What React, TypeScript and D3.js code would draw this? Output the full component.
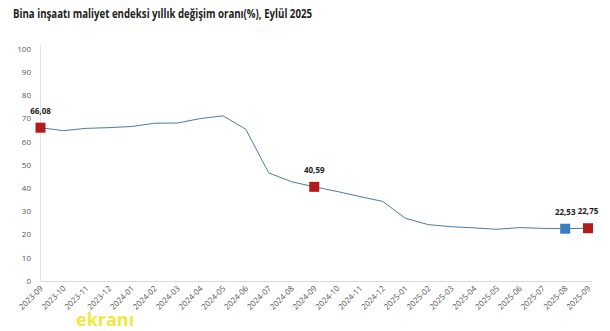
import React from "react";
import * as d3 from "d3";

const months = [
  "2023-09","2023-10","2023-11","2023-12","2024-01","2024-02","2024-03","2024-04","2024-05",
  "2024-06","2024-07","2024-08","2024-09","2024-10","2024-11","2024-12","2025-01","2025-02",
  "2025-03","2025-04","2025-05","2025-06","2025-07","2025-08","2025-09",
];
const values = [
  66.08, 64.8, 65.8, 66.1, 66.6, 68.0, 68.1, 70.0, 71.2,
  65.4, 46.6, 42.8, 40.59, 38.6, 36.4, 34.3, 27.0, 24.3,
  23.4, 22.9, 22.3, 23.0, 22.7, 22.53, 22.75,
];
const yTicks = [0, 10, 20, 30, 40, 50, 60, 70, 80, 90, 100];
const highlights = [
  { i: 0, label: "66,08", color: "#b31b1b" },
  { i: 12, label: "40,59", color: "#b31b1b" },
  { i: 23, label: "22,53", color: "#3a7fc1" },
  { i: 24, label: "22,75", color: "#b31b1b" },
];
const title = "Bina inşaatı maliyet endeksi yıllık değişim oranı(%), Eylül 2025";

export default function App() {
  const W = 610, H = 331;
  const x = d3.scalePoint<string>().domain(months).range([40.5, 588]);
  const y = d3.scaleLinear().domain([0, 100]).range([281, 49]);
  const line = d3.line<number>().x((_, i) => x(months[i])!).y((d) => y(d));
  const font = "'Open Sans', 'Liberation Sans', sans-serif";
  return (
    <svg width={W} height={H} style={{ position: "absolute", left: 0, top: 0, fontFamily: font }}>
      <rect width={W} height={H} fill="#fff" />
      <text x={13} y={18} fontSize={12} fontWeight="bold" fill="#222" textLength={299} lengthAdjust="spacingAndGlyphs">{title}</text>
      <line x1={40.5} x2={40.5} y1={45} y2={281} stroke="#e2e2e2" />
      <line x1={40.5} x2={592} y1={281.5} y2={281.5} stroke="#d9d9d9" />
      {yTicks.map((t) => (
        <text key={t} x={31} y={y(t)} dy="0.35em" textAnchor="end" fontSize={8} fill="#555">{t}</text>
      ))}
      {months.map((m) => (
        <text key={m} transform={`translate(${x(m)! + 3},${289}) rotate(-45)`} textAnchor="end" fontSize={8} fill="#555">{m}</text>
      ))}
      <path d={line(values)!} fill="none" stroke="#4a7aa6" strokeWidth={1} />
      {highlights.map((h) => (
        <g key={h.i}>
          <rect x={x(months[h.i])! - 5} y={y(values[h.i]) - 5} width={10} height={10} fill={h.color} />
          <text x={x(months[h.i])!} y={y(values[h.i]) - 14} textAnchor="middle" fontSize={8} fontWeight="bold" fill="#222">{h.label}</text>
        </g>
      ))}
      <text x={76} y={326} fontSize={18} fontWeight="bold" fill="#f2e52a" opacity={0.9}>ekranı</text>
    </svg>
  );
}
